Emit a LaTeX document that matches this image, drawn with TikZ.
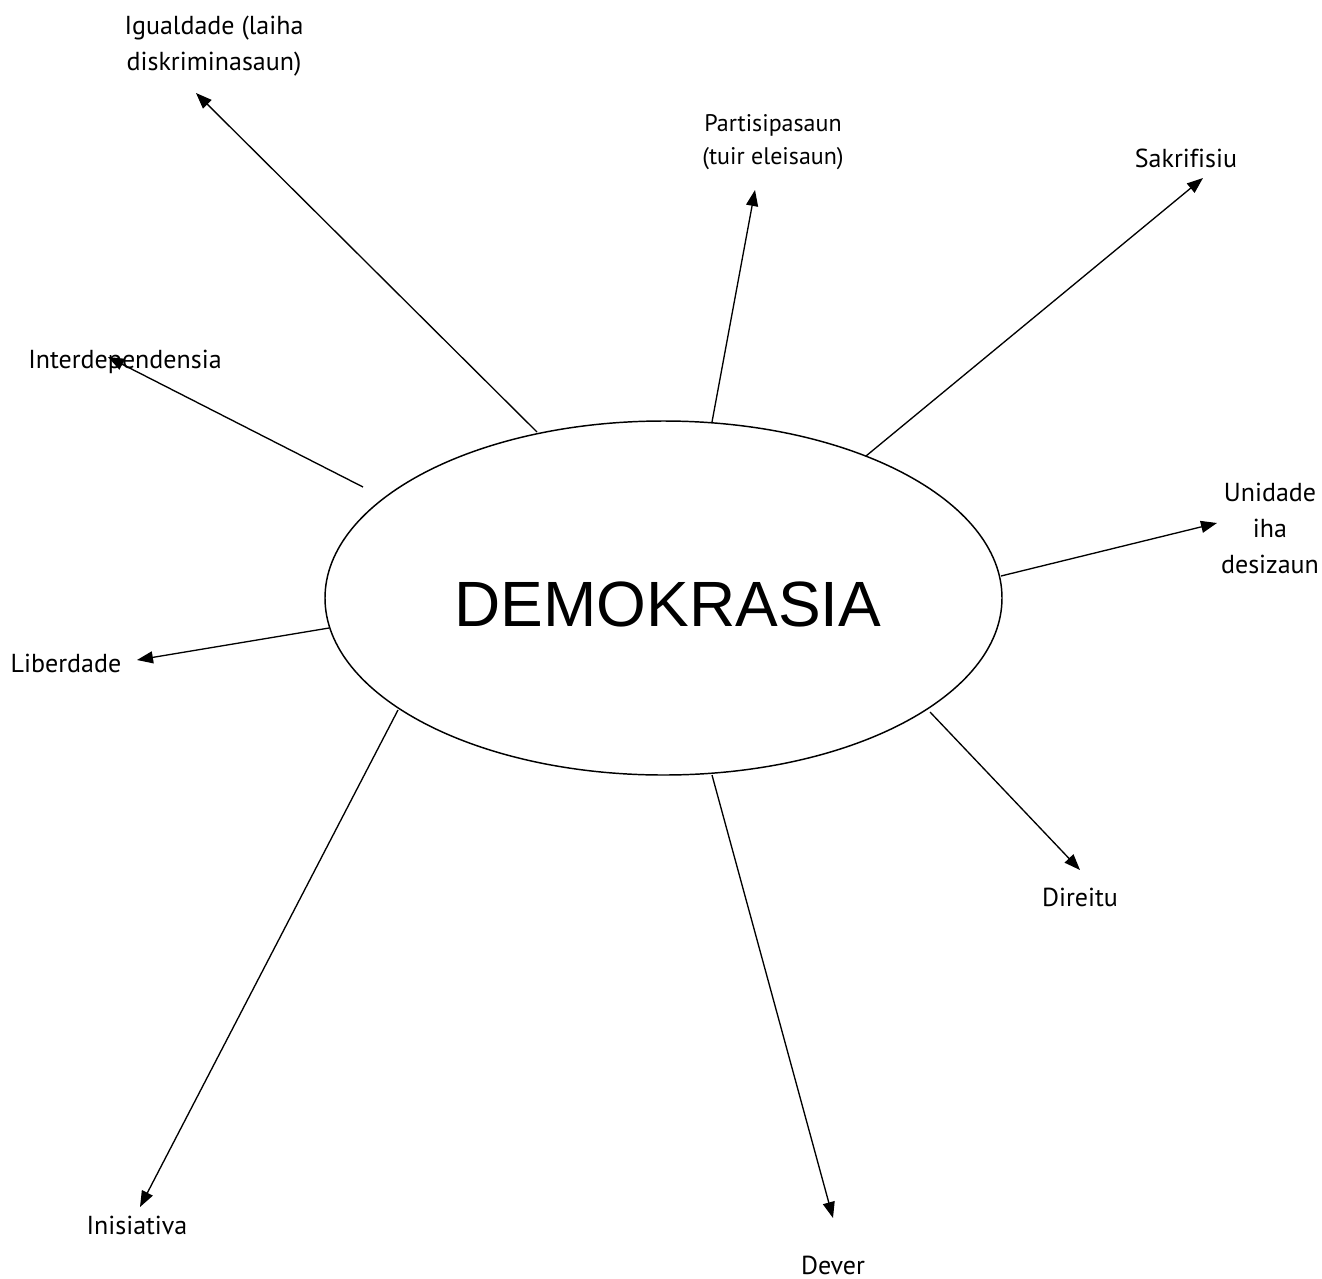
\documentclass[tikz,border=0pt]{standalone}
\usepackage{fontspec}
\setmainfont[Ligatures=NoCommon]{PT Sans}
\newfontfamily\arialfont{Liberation Sans}
\usetikzlibrary{arrows.meta}
\begin{document}
\begin{tikzpicture}[x=0.75pt,y=-0.75pt,
  lbl/.style={font=\fontsize{19.5}{27}\selectfont,align=center,inner sep=0pt},
  lblsmall/.style={font=\fontsize{18}{25}\selectfont,align=center,inner sep=0pt},
  conn/.style={line width=1pt,-{Triangle[length=12pt,width=9pt]}}]
\useasboundingbox (0,0) rectangle (1322,1279);
\draw[line width=1.1pt] (663.5,598) ellipse [x radius=338.5, y radius=177];
\node[font=\arialfont\fontsize{48}{50}\selectfont] (dem) at (668,604) {DEMOKRASIA};
% labels
\node[lbl] (igu) at (214,46) {Igualdade (laiha\\diskriminasaun)};
\node[lblsmall] (par) at (773,142) {Partisipasaun\\(tuir eleisaun)};
\node[lbl] (sak) at (1186,158) {Sakrifisiu};
\node[lbl] (uni) at (1270,528) {Unidade\\iha\\desizaun};
\node[lbl] (dir) at (1080,897) {Direitu};
\node[lbl] (dev) at (833,1265) {Dever};
\node[lbl] (ini) at (137,1225) {Inisiativa};
\node[lbl] (lib) at (66,663) {Liberdade};
\node[lbl] (int) at (125,362) {Interdependensia};
% start points on the ellipse
\coordinate (s1) at (537,432);
\coordinate (s2) at (712,422);
\coordinate (s3) at (866,456);
\coordinate (s4) at (1001,576);
\coordinate (s5) at (930,712);
\coordinate (s6) at (712,775);
\coordinate (s7) at (398,710);
\coordinate (s8) at (329,628);
\coordinate (s9) at (363,487);
% arrow tips
\coordinate (t1) at (196,93);
\coordinate (t2) at (755,190);
\coordinate (t3) at (1203,178);
\coordinate (t4) at (1217,523);
\coordinate (t5) at (1080,870);
\coordinate (t6) at (833,1218);
\coordinate (t7) at (140,1207);
\coordinate (t8) at (137,660);
\coordinate (t9) at (108,357);
\foreach \i in {1,...,9} {\draw[conn] (s\i) -- (t\i);}
\end{tikzpicture}
\end{document}
